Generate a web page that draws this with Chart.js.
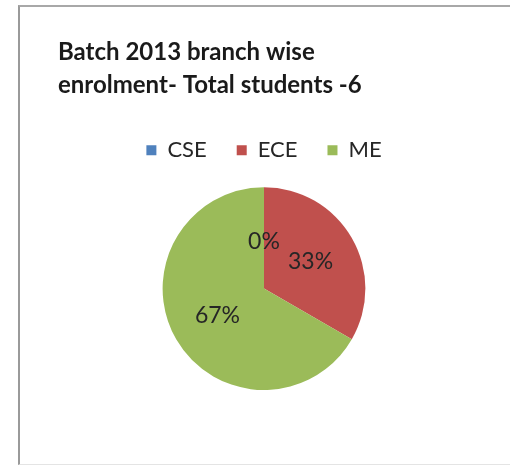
<!DOCTYPE html>
<html>
<head>
<meta charset="utf-8">
<script src="https://cdn.jsdelivr.net/npm/chart.js@4"></script>
<style>
  body { margin: 0; background: #fff; width: 510px; height: 466px; overflow: hidden; }
  #frame { position: absolute; left: 18px; top: 5px; width: 520px; height: 457px;
           border-left: 2px solid #9a9a9a; border-top: 2px solid #a8a8a8; border-bottom: 1px solid #e4e4e4; }
  #box { position: absolute; left: 58px; top: 20px; width: 412px; height: 370px; }
</style>
</head>
<body>
<div id="frame"></div>
<div id="box"><canvas id="myChart"></canvas></div>
<script>
// 데이터
var branches = ['CSE', 'ECE', 'ME'];
var students = [0, 2, 4];
var sliceColors = ['#4F81BD', '#C0504D', '#9BBB59'];
var titleLines = ['Batch 2013 branch wise', 'enrolment- Total students -6'];

// 퍼센트 라벨 그리기
var pctLabels = {
    id: 'pctLabels',
    afterDatasetsDraw: function (chart) {
        var c = chart.ctx;
        var meta = chart.getDatasetMeta(0);
        var data = chart.data.datasets[0].data;
        var total = data.reduce(function (a, b) { return a + b; }, 0);
        c.save();
        c.font = '23px Lato';
        c.fillStyle = '#262626';
        c.textAlign = 'center';
        c.textBaseline = 'middle';
        meta.data.forEach(function (arc, i) {
            var p = arc.getProps(['x', 'y', 'startAngle', 'endAngle', 'outerRadius'], true);
            var mid = (p.startAngle + p.endAngle) / 2;
            var r = p.outerRadius * (data[i] === 0 ? 0.46 : 0.53);
            var pct = Math.round(data[i] / total * 100) + '%';
            c.fillText(pct, p.x + Math.cos(mid) * r, p.y + Math.sin(mid) * r);
        });
        c.restore();
    }
};

// 범례 아래 여백 추가
var legendGap = {
    id: 'legendGap',
    beforeInit: function (chart) {
        var fit = chart.legend.fit;
        chart.legend.fit = function () {
            fit.bind(chart.legend)();
            this.height += 16;
        };
    }
};

var ctx = document.getElementById('myChart');
new Chart(ctx, {
    type: 'pie',
    data: {
        labels: branches,
        datasets: [{
            data: students,
            backgroundColor: sliceColors,
            borderWidth: 0
        }]
    },
    options: {
        responsive: true,
        maintainAspectRatio: false,
        animation: false,
        layout: { padding: 0 },
        plugins: {
            title: {
                display: true,
                text: titleLines,
                align: 'start',
                color: '#1a1a1a',
                font: { family: 'Lato', size: 24, weight: 'bold', lineHeight: 1.38 },
                padding: { top: 16, bottom: 7 }
            },
            legend: {
                position: 'top',
                labels: {
                    boxWidth: 10,
                    boxHeight: 10,
                    padding: 30,
                    color: '#262626',
                    font: { family: 'Lato', size: 22 }
                }
            },
            tooltip: { enabled: false }
        }
    },
    plugins: [pctLabels, legendGap]
});
</script>
</body>
</html>
